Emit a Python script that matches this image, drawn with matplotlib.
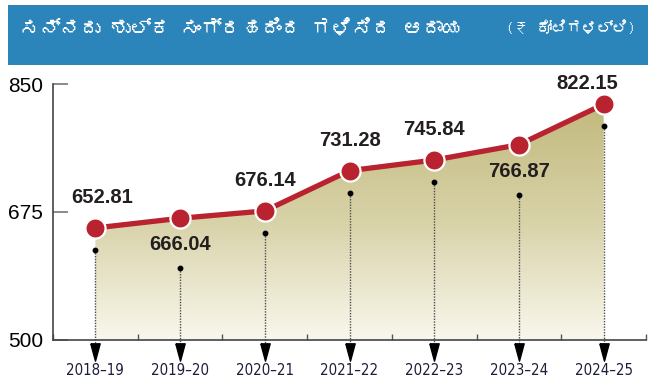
import numpy as np
import matplotlib
matplotlib.use('Agg')
import matplotlib.pyplot as plt
from matplotlib import font_manager
from matplotlib.ft2font import FT2Font
from matplotlib.path import Path
from matplotlib.patches import Rectangle
from matplotlib.colors import LinearSegmentedColormap

# ------------------------------------ 数据 ------------------------------------ #
years = ['2018–19', '2019–20', '2020–21', '2021–22', '2022–23', '2023–24', '2024–25']
revenue = [652.81, 666.04, 676.14, 731.28, 745.84, 766.87, 822.15]
label_side = ['up', 'down', 'up', 'up', 'up', 'down', 'up']
yticks = [500, 675, 850]
title = 'ಸನ್ನದು ಶುಲ್ಕ ಸಂಗ್ರಹದಿಂದ ಗಳಿಸಿದ ಆದಾಯ'
unit = '(₹ ಕೋಟಿಗಳಲ್ಲಿ)'


def find_font(ch):
    """找一个带有该字符的字体"""
    for f in font_manager.fontManager.ttflist:
        try:
            if ord(ch) in FT2Font(f.fname).get_charmap():
                return f.name
        except Exception:
            pass
    return None


def find_condensed():
    """找无衬线窄体字体（没有就返回 None）"""
    for f in font_manager.fontManager.ttflist:
        if 'Serif' in f.name or 'Mono' in f.name:
            continue
        if f.stretch in ('condensed', 'semi-condensed', 'extra-condensed') or \
                'Narrow' in f.name or 'Condensed' in f.name:
            return f.name, f.stretch
    return None, 'normal'


kn_font = find_font('ಸ')
title_family = [kn_font, 'DejaVu Sans'] if kn_font else ['DejaVu Sans']
cond_name, cond_stretch = find_condensed()
narrow = [cond_name, 'DejaVu Sans'] if cond_name else ['DejaVu Sans']
bold_family = ['Liberation Sans', 'DejaVu Sans']

fig = plt.figure(figsize=(6.54, 3.88), dpi=100)
fig.patch.set_facecolor('white')

# 标题条
fig.patches.append(Rectangle((8 / 654, 323 / 388), 640 / 654, 60 / 388,
                             transform=fig.transFigure, facecolor='#2b84ba',
                             edgecolor='none', zorder=0))
fig.text(20 / 654, 0.928, title, color='white', fontsize=14.5,
         family=title_family, va='center', ha='left')
fig.text(636 / 654, 0.928, unit, color='white', fontsize=11,
         family=title_family, va='center', ha='right')

ax = fig.add_axes([53 / 654, 48.5 / 388, 593 / 654, 255.5 / 388])
x = np.arange(len(years))

# 渐变填充
poly = ax.fill_between(x, revenue, 500, color='none', zorder=1)
cmap = LinearSegmentedColormap.from_list('olive', ['#f9f7ec', '#d8d2a8', '#c2b97d'])
grad = np.linspace(0, 1, 256).reshape(-1, 1)
im = ax.imshow(grad, cmap=cmap, origin='lower', aspect='auto',
               extent=[-0.5, len(years) - 0.5, 500, max(revenue)], zorder=1)
im.set_clip_path(poly.get_paths()[0], transform=ax.transData)
ax.set_xlim(-0.5, len(years) - 0.5)
ax.set_ylim(500, 850)

# 1 px 对应的数值
upp = 350 / 255.5
arrow_head = Path([(-0.27, 0.5), (0.27, 0.5), (0, -0.5), (-0.27, 0.5)])
for i, v in enumerate(revenue):
    off = 22 if label_side[i] == 'up' else 50
    dot_y = v - off * upp
    ax.plot([i, i], [dot_y, 500 - 4 * upp], ls=(0, (1, 1)), color='#4d4d4d',
            lw=1.0, clip_on=False, zorder=2)
    ax.plot(i, dot_y, 'o', color='black', ms=3.2, zorder=3)
    ax.plot(i, 500 - 12 * upp, marker=arrow_head, color='black', ms=12.5,
            clip_on=False, zorder=3)

ax.plot(x, revenue, color='#b8232f', lw=3.8, zorder=4, solid_capstyle='round')
ax.plot(x, revenue, 'o', ms=14.5, mfc='#b8232f', mec='white', mew=1.6, zorder=5)

for i, v in enumerate(revenue):
    dx = 0
    dy = 22 if label_side[i] == 'up' else -19
    if i == 0:
        dx = 5
    if i == len(revenue) - 1:
        dx, dy = -12, 15
    ax.annotate(f'{v:.2f}', (i, v), xytext=(dx, dy), textcoords='offset points',
                ha='center', va='center', fontsize=14.5, fontweight='bold',
                family=bold_family, color='#231f20', zorder=6)

for s in ['top', 'right']:
    ax.spines[s].set_visible(False)
ax.spines['left'].set_color('#444444')
ax.spines['bottom'].set_color('#444444')
ax.spines['left'].set_linewidth(1.2)
ax.spines['bottom'].set_linewidth(1.2)

ax.set_yticks(yticks)
ax.set_yticklabels([str(t) for t in yticks], fontsize=15, family=['Liberation Sans', 'DejaVu Sans'])
ax.tick_params(axis='y', direction='in', length=11, width=1.2, color='#777777', pad=7)

ax.set_xticks(x)
ax.set_xticklabels(years, fontsize=10.8, family=narrow, fontstretch=cond_stretch,
                   color='#1c1f3a')
ax.set_xticks(np.arange(-0.5, len(years)), minor=True)
ax.tick_params(axis='x', which='major', length=0, pad=17)
ax.tick_params(axis='x', which='minor', direction='in', length=4, width=1.0, color='#555555')

fig.savefig('out.png', dpi=100)
